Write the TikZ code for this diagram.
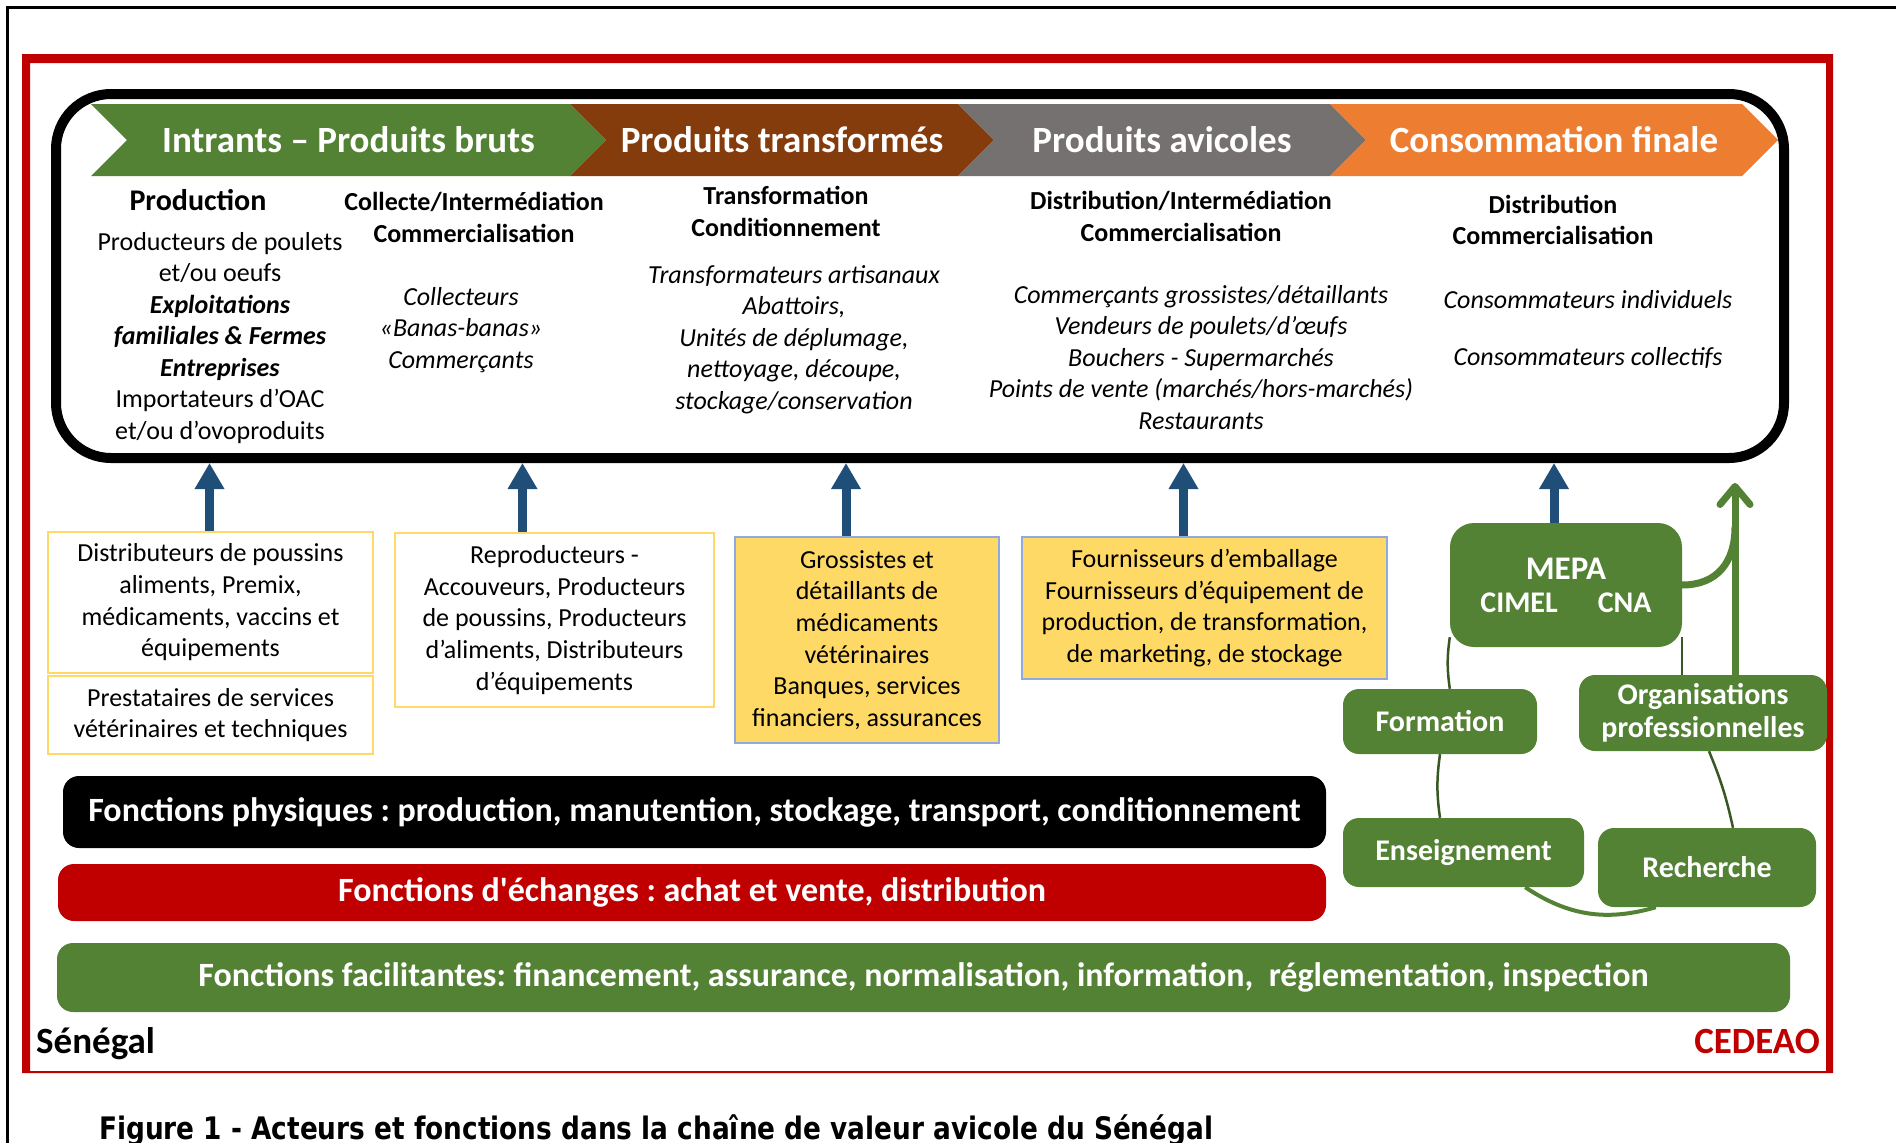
\documentclass[tikz,border=0pt]{standalone}
\usepackage{fontspec}
\usepackage{graphicx}
\setmainfont{Carlito}
\newfontfamily\capfont{DejaVu Sans}
\usetikzlibrary{arrows.meta}
\frenchspacing

\definecolor{vgreen}{HTML}{548235}
\definecolor{vdkgreen}{HTML}{385723}
\definecolor{vbrown}{HTML}{843C0C}
\definecolor{vgrey}{HTML}{767171}
\definecolor{vorange}{HTML}{ED7D31}
\definecolor{vred}{HTML}{C00000}
\definecolor{vyellow}{HTML}{FFD966}
\definecolor{vblue}{HTML}{8FAADC}
\definecolor{vnavy}{HTML}{1F4E79}

\tikzset{
  banner/.style={text=white, font=\bfseries\fontsize{37}{40}\selectfont, inner sep=0pt},
  colhead/.style={align=center, font=\bfseries\fontsize{26}{31.5}\selectfont, inner sep=0pt},
  colbody/.style={align=center, font=\fontsize{26}{31.5}\selectfont, inner sep=0pt},
  colitem/.style={colbody, font=\itshape\fontsize{26}{31.5}\selectfont},
  suppbox/.style={draw=vyellow, line width=2pt, align=center, font=\fontsize{26}{31.7}\selectfont, inner sep=0pt},
  suppfill/.style={suppbox, fill=vyellow, draw=vblue, line width=1.5pt},
  actor/.style={fill=vgreen, rounded corners=16pt, text=white, align=center, font=\bfseries\fontsize{30}{33}\selectfont, inner sep=0pt},
  fbar/.style={rounded corners=16pt, text=white, font=\bfseries\fontsize{34}{38}\selectfont, inner sep=0pt},
  uparrow/.style={vnavy, line width=9pt, -{Triangle[length=26pt,width=28pt]}},
  link/.style={vdkgreen, line width=2.5pt},
  garrow/.style={vgreen, line width=7pt, line cap=round, -{Straight Barb[length=18pt,width=30pt,round]}},
}

\begin{document}
\begin{tikzpicture}[x=1pt, y=-1pt]
  \useasboundingbox (0,0) rectangle (1896,1143);
  % page frame and red frame
  \draw[line width=3pt] (7,1143) -- (7,7.5) -- (1896,7.5);
  \fill[vred, even odd rule] (22,54) rectangle (1833,1073) (30,63) rectangle (1826,1071);

  % value chain
  \node[draw, line width=10pt, rounded corners=55pt, minimum width=1728, minimum height=364, inner sep=0pt] (chain) at (920,276) {};
  \foreach \xa/\xb/\col/\lab [count=\i] in {91/570/vgreen/Intrants – Produits bruts, 570/958/vbrown/Produits transformés, 958/1330/vgrey/Produits avicoles, 1330/1742/vorange/Consommation finale}{
    \fill[\col] (\xa,104) -- (\xb,104) -- ++(36,36) -- ++(-36,36) -- (\xa,176) -- ++(36,-36) -- cycle;
    \node[banner] (stage\i) at ({(\xa+\xb)/2+18},140) {\lab};
  }

  \node[colhead, font=\bfseries\fontsize{30}{36}\selectfont] (prod) at (198,200) {Production};
  \node[colbody] (prodtxt) at (220,338) {Producteurs de poulets\\et/ou oeufs\\\textbf{\textit{Exploitations}}\\\textbf{\textit{familiales \& Fermes}}\\\textbf{\textit{Entreprises}}\\Importateurs d’OAC\\et/ou d’ovoproduits};
  \node[colhead] (coll) at (474,217.5) {Collecte/Intermédiation\\Commercialisation};
  \node[colitem] (colltxt) at (461,330) {Collecteurs\\«Banas-banas»\\Commerçants};
  \node[colhead] (transf) at (786,211.5) {Transformation\\Conditionnement};
  \node[colitem] (transftxt) at (794,339.5) {Transformateurs artisanaux\\Abattoirs,\\Unités de déplumage,\\nettoyage, découpe,\\stockage/conservation};
  \node[colhead] (distr) at (1181,216.5) {Distribution/Intermédiation\\Commercialisation};
  \node[colitem] (distrtxt) at (1201,357.5) {Commerçants grossistes/détaillants\\Vendeurs de poulets/d’œufs\\Bouchers - Supermarchés\\Points de vente (marchés/hors-marchés)\\Restaurants};
  \node[colhead] (conso) at (1553,220) {Distribution\\Commercialisation};
  \node[colitem] (indiv) at (1588,300) {Consommateurs individuels};
  \node[colitem] (collec) at (1588,358) {Consommateurs collectifs};

  % suppliers
  \node[suppbox, minimum width=325, minimum height=141] (intr) at (210.5,602.5) {Distributeurs de poussins\\aliments, Premix,\\médicaments, vaccins et\\équipements};
  \node[suppbox, minimum width=325, minimum height=78] (serv) at (210.5,715) {Prestataires de services\\vétérinaires et techniques};
  \node[suppbox, minimum width=319, minimum height=174] (repro) at (554.5,620) {Reproducteurs -\\Accouveurs, Producteurs\\de poussins, Producteurs\\d’aliments, Distributeurs\\d’équipements};
  \node[suppfill, minimum width=264, minimum height=206] (vet) at (867,640) {Grossistes et\\détaillants de\\médicaments\\vétérinaires\\Banques, services\\financiers, assurances};
  \node[suppfill, minimum width=365, minimum height=142] (emb) at (1204.5,608) {Fournisseurs d’emballage\\Fournisseurs d’équipement de\\production, de transformation,\\de marketing, de stockage};

  % support institutions
  \node[actor, minimum width=232, minimum height=124, rounded corners=24pt] (mepa) at (1566,585) {{\fontsize{33}{36}\selectfont MEPA}\\CIMEL\hspace{40pt}CNA};
  \node[actor, minimum width=194, minimum height=65] (form) at (1440,721.5) {Formation};
  \node[actor, minimum width=248, minimum height=76] (orgpro) at (1703,713) {Organisations\\professionnelles};
  \node[actor, minimum width=241, minimum height=69] (ens) at (1463.5,852.5) {Enseignement};
  \node[actor, minimum width=218, minimum height=79] (rech) at (1707,867.5) {Recherche};

  \foreach \n/\dx in {intr/-1, repro/-32, vet/-21, emb/-21, mepa/-12}{
    \coordinate (ft\n) at ([xshift=\dx]\n.north);
    \draw[uparrow] (ft\n) -- (ft\n |- chain.south);
  }

  \draw[link] ([yshift=10]mepa.south west) to[bend right=8] (form.north -| mepa.west);
  \draw[link] ([yshift=10]mepa.south east) -- (orgpro.north -| mepa.east);
  \draw[link] (form.south) to[bend right=8] (form.south |- ens.north);
  \draw[link] ([xshift=6]orgpro.south) to[bend left=5] ([xshift=26]rech.north);
  \draw[vgreen, line width=4pt] ([xshift=-59]ens.south east) to[bend right=25] ([xshift=58]rech.south west);

  \coordinate (orgtop) at ([xshift=32]orgpro.north);
  \coordinate (up) at (1735,483);
  \coordinate (jn) at (1735,527);
  \draw[garrow] (orgtop) -- (up);
  \draw[vgreen, line width=7pt, line cap=round] (mepa.east) .. controls +(35,0) and +(0,35) .. (jn);

  % functions
  \node[fbar, fill=black, minimum width=1263, minimum height=72] (phys) at (694.5,812) {Fonctions physiques : production, manutention, stockage, transport, conditionnement};
  \node[fbar, fill=vred, minimum width=1268, minimum height=57] (echg) at (692,892.5) {Fonctions d\textquotesingle échanges : achat et vente, distribution};
  \node[fbar, fill=vgreen, minimum width=1733, minimum height=69] (facil) at (923.5,977.5) {Fonctions facilitantes: financement, assurance, normalisation, information,\ \ réglementation, inspection};

  \node[anchor=base west, inner sep=0pt, font=\bfseries\fontsize{37}{40}\selectfont] (sen) at (36,1053) {Sénégal};
  \node[anchor=base east, inner sep=0pt, text=vred, font=\bfseries\fontsize{37}{40}\selectfont] (cedeao) at (1820,1053) {CEDEAO};
  \node[anchor=base west, inner sep=0pt, font=\capfont\bfseries\fontsize{31}{36}\selectfont] (cap) at (99,1139) {\scalebox{0.85}[1]{Figure 1 - Acteurs et fonctions dans la chaîne de valeur avicole du Sénégal}};
\end{tikzpicture}
\end{document}
